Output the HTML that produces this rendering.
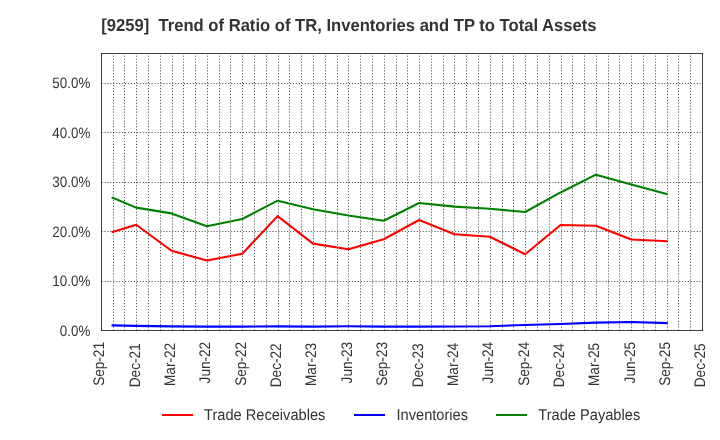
<!DOCTYPE html><html><head><meta charset="utf-8"><style>html,body{margin:0;padding:0;background:#fff;overflow:hidden;}svg{display:block;will-change:transform;}text{font-family:"Liberation Sans",sans-serif;text-rendering:geometricPrecision;}</style></head><body>
<svg width="720" height="440" viewBox="0 0 720 440">
<rect x="0" y="0" width="720" height="440" fill="#fff"/>
<path d="M113.5 330.5V53.5 M124.5 330.5V53.5 M136.5 330.5V53.5 M148.5 330.5V53.5 M160.5 330.5V53.5 M172.5 330.5V53.5 M183.5 330.5V53.5 M195.5 330.5V53.5 M207.5 330.5V53.5 M219.5 330.5V53.5 M230.5 330.5V53.5 M242.5 330.5V53.5 M254.5 330.5V53.5 M266.5 330.5V53.5 M278.5 330.5V53.5 M289.5 330.5V53.5 M301.5 330.5V53.5 M313.5 330.5V53.5 M325.5 330.5V53.5 M337.5 330.5V53.5 M348.5 330.5V53.5 M360.5 330.5V53.5 M372.5 330.5V53.5 M384.5 330.5V53.5 M396.5 330.5V53.5 M407.5 330.5V53.5 M419.5 330.5V53.5 M431.5 330.5V53.5 M443.5 330.5V53.5 M454.5 330.5V53.5 M466.5 330.5V53.5 M478.5 330.5V53.5 M490.5 330.5V53.5 M502.5 330.5V53.5 M513.5 330.5V53.5 M525.5 330.5V53.5 M537.5 330.5V53.5 M549.5 330.5V53.5 M561.5 330.5V53.5 M572.5 330.5V53.5 M584.5 330.5V53.5 M596.5 330.5V53.5 M608.5 330.5V53.5 M619.5 330.5V53.5 M631.5 330.5V53.5 M643.5 330.5V53.5 M655.5 330.5V53.5 M667.5 330.5V53.5 M678.5 330.5V53.5 M690.5 330.5V53.5" stroke="#000" stroke-opacity="0.68" stroke-width="1" stroke-dasharray="1.11 1.835" stroke-dashoffset="0.1" fill="none"/>
<path d="M101.5 281.5H702.5 M101.5 231.5H702.5 M101.5 182.5H702.5 M101.5 132.5H702.5 M101.5 83.5H702.5" stroke="#000" stroke-opacity="0.68" stroke-width="1" stroke-dasharray="1.11 1.8363" fill="none"/>
<polyline points="112.59,231.90 136.16,224.75 171.53,250.75 206.89,260.50 242.26,253.75 277.62,216.10 312.98,243.65 348.35,249.25 383.71,239.25 419.08,220.00 454.44,234.25 489.80,236.75 525.17,254.25 560.53,225.00 595.90,225.75 631.26,239.50 666.62,241.25" fill="none" stroke="#ff0000" stroke-width="2.08" stroke-linejoin="round" stroke-linecap="square"/>
<polyline points="112.59,325.40 136.16,325.90 171.53,326.40 206.89,326.60 242.26,326.60 277.62,326.40 312.98,326.60 348.35,326.30 383.71,326.60 419.08,326.60 454.44,326.50 489.80,326.20 525.17,325.00 560.53,324.00 595.90,322.60 631.26,322.00 666.62,323.10" fill="none" stroke="#0000ff" stroke-width="2.08" stroke-linejoin="round" stroke-linecap="square"/>
<polyline points="112.59,197.75 136.16,207.65 171.53,213.40 206.89,226.30 242.26,219.00 277.62,200.70 312.98,209.25 348.35,215.50 383.71,220.75 419.08,203.00 454.44,206.65 489.80,208.75 525.17,212.00 560.53,192.45 595.90,174.65 631.26,184.55 666.62,194.00" fill="none" stroke="#008000" stroke-width="2.08" stroke-linejoin="round" stroke-linecap="square"/>
<path d="M101.0 53.5H703.0" stroke="#000" stroke-opacity="0.75" stroke-width="1"/>
<path d="M101.0 330.5H703.0" stroke="#000" stroke-opacity="0.75" stroke-width="1"/>
<path d="M101.5 53.0V331.0" stroke="#000" stroke-opacity="0.75" stroke-width="1"/>
<path d="M702.5 53.0V331.0" stroke="#000" stroke-opacity="0.75" stroke-width="1"/>
<text transform="translate(90.3,335.70) scale(0.965,1.08)" font-size="13.89" letter-spacing="0" fill="#333" text-anchor="end">0.0%</text>
<text transform="translate(90.3,286.24) scale(0.965,1.08)" font-size="13.89" letter-spacing="0" fill="#333" text-anchor="end">10.0%</text>
<text transform="translate(90.3,236.78) scale(0.965,1.08)" font-size="13.89" letter-spacing="0" fill="#333" text-anchor="end">20.0%</text>
<text transform="translate(90.3,187.32) scale(0.965,1.08)" font-size="13.89" letter-spacing="0" fill="#333" text-anchor="end">30.0%</text>
<text transform="translate(90.3,137.86) scale(0.965,1.08)" font-size="13.89" letter-spacing="0" fill="#333" text-anchor="end">40.0%</text>
<text transform="translate(90.3,88.40) scale(0.965,1.08)" font-size="13.89" letter-spacing="0" fill="#333" text-anchor="end">50.0%</text>
<text transform="translate(104.30,342.00) rotate(-90) scale(0.98,1.1)" font-size="13.89" fill="#333" text-anchor="end">Sep-21</text>
<text transform="translate(139.66,343.40) rotate(-90) scale(0.98,1.1)" font-size="13.89" fill="#333" text-anchor="end">Dec-21</text>
<text transform="translate(175.03,342.90) rotate(-90) scale(0.98,1.1)" font-size="13.89" fill="#333" text-anchor="end">Mar-22</text>
<text transform="translate(210.39,341.80) rotate(-90) scale(0.98,1.1)" font-size="13.89" fill="#333" text-anchor="end">Jun-22</text>
<text transform="translate(245.76,342.00) rotate(-90) scale(0.98,1.1)" font-size="13.89" fill="#333" text-anchor="end">Sep-22</text>
<text transform="translate(281.12,343.40) rotate(-90) scale(0.98,1.1)" font-size="13.89" fill="#333" text-anchor="end">Dec-22</text>
<text transform="translate(316.48,342.90) rotate(-90) scale(0.98,1.1)" font-size="13.89" fill="#333" text-anchor="end">Mar-23</text>
<text transform="translate(351.85,341.80) rotate(-90) scale(0.98,1.1)" font-size="13.89" fill="#333" text-anchor="end">Jun-23</text>
<text transform="translate(387.21,342.00) rotate(-90) scale(0.98,1.1)" font-size="13.89" fill="#333" text-anchor="end">Sep-23</text>
<text transform="translate(422.58,343.40) rotate(-90) scale(0.98,1.1)" font-size="13.89" fill="#333" text-anchor="end">Dec-23</text>
<text transform="translate(457.94,342.90) rotate(-90) scale(0.98,1.1)" font-size="13.89" fill="#333" text-anchor="end">Mar-24</text>
<text transform="translate(493.30,341.80) rotate(-90) scale(0.98,1.1)" font-size="13.89" fill="#333" text-anchor="end">Jun-24</text>
<text transform="translate(528.67,342.00) rotate(-90) scale(0.98,1.1)" font-size="13.89" fill="#333" text-anchor="end">Sep-24</text>
<text transform="translate(564.03,343.40) rotate(-90) scale(0.98,1.1)" font-size="13.89" fill="#333" text-anchor="end">Dec-24</text>
<text transform="translate(599.40,342.90) rotate(-90) scale(0.98,1.1)" font-size="13.89" fill="#333" text-anchor="end">Mar-25</text>
<text transform="translate(634.76,341.80) rotate(-90) scale(0.98,1.1)" font-size="13.89" fill="#333" text-anchor="end">Jun-25</text>
<text transform="translate(670.12,342.00) rotate(-90) scale(0.98,1.1)" font-size="13.89" fill="#333" text-anchor="end">Sep-25</text>
<text transform="translate(705.49,343.40) rotate(-90) scale(0.98,1.1)" font-size="13.89" fill="#333" text-anchor="end">Dec-25</text>
<text transform="translate(101.3,30.6) scale(0.997,1.04)" font-size="16.67" font-weight="bold" fill="#333" xml:space="preserve">[9259]  Trend of Ratio of TR, Inventories and TP to Total Assets</text>
<line x1="163" y1="415.0" x2="192" y2="415.0" stroke="#ff0000" stroke-width="2.08" stroke-linecap="square"/>
<text transform="translate(204.0,420) scale(1,1.07)" font-size="14.63" fill="#333">Trade Receivables</text>
<line x1="355" y1="415.0" x2="384" y2="415.0" stroke="#0000ff" stroke-width="2.08" stroke-linecap="square"/>
<text transform="translate(396.5,420) scale(1,1.07)" font-size="14.63" fill="#333">Inventories</text>
<line x1="497" y1="415.0" x2="526" y2="415.0" stroke="#008000" stroke-width="2.08" stroke-linecap="square"/>
<text transform="translate(538.3,420) scale(1,1.07)" font-size="14.63" fill="#333">Trade Payables</text>
</svg></body></html>
